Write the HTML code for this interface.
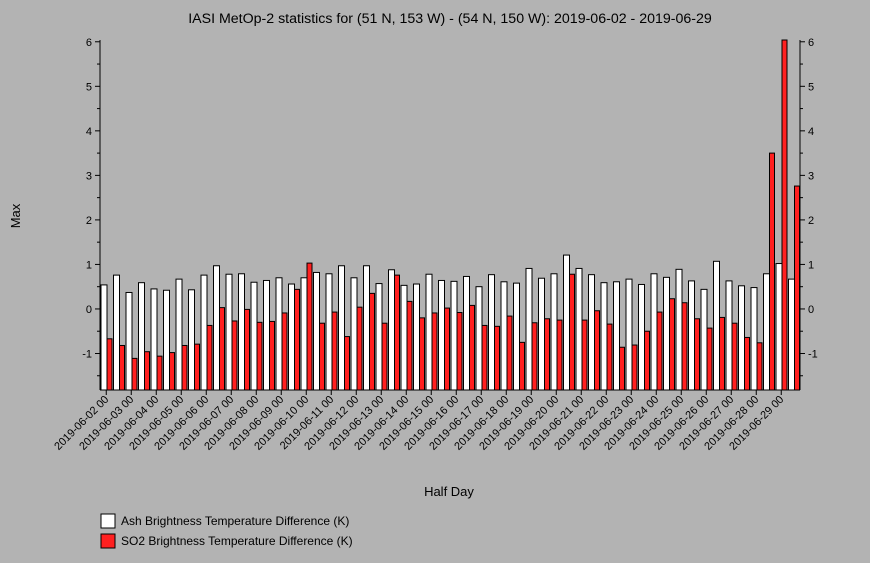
<!DOCTYPE html>
<html><head><meta charset="utf-8"><style>
body{margin:0;background:#b3b3b3;}
svg{display:block;font-family:"Liberation Sans",sans-serif;}
</style></head><body>
<svg id="c" width="870" height="563">
<rect width="870" height="563" fill="#b3b3b3"/>
<text x="450" y="23" font-size="14.2" text-anchor="middle">IASI MetOp-2 statistics for (51 N, 153 W) - (54 N, 150 W): 2019-06-02 - 2019-06-29</text>
<text x="20" y="216" font-size="13" text-anchor="middle" transform="rotate(-90 20 216)">Max</text>
<text x="449" y="496" font-size="13" text-anchor="middle">Half Day</text>
<g id="bars"></g><g id="axes"></g>
<g>
<rect x="101" y="514" width="14" height="14" fill="#fff" stroke="#000"/>
<text x="121" y="525" font-size="12">Ash Brightness Temperature Difference (K)</text>
<rect x="101" y="534" width="14" height="14" fill="#ff2020" stroke="#000"/>
<text x="121" y="545" font-size="12">SO2 Brightness Temperature Difference (K)</text>
</g>
</svg>
<script>
const dates=["02","03","04","05","06","07","08","09","10","11","12","13","14","15","16","17","18","19","20","21","22","23","24","25","26","27","28","29"];
const ash=[0.54,0.76,0.37,0.59,0.45,0.42,0.67,0.43,0.76,0.97,0.78,0.79,0.60,0.64,0.70,0.56,0.70,0.82,0.79,0.97,0.70,0.97,0.57,0.88,0.53,0.56,0.78,0.64,
0.62,0.73,0.50,0.77,0.61,0.58,0.91,0.69,0.79,1.21,0.91,0.77,0.59,0.61,0.67,0.55,0.79,0.71,0.89,0.63,0.44,1.07,0.63,0.52,0.48,0.79,1.02,0.67];
const so2=[-0.67,-0.82,-1.11,-0.96,-1.06,-0.98,-0.82,-0.79,-0.37,0.03,-0.27,-0.01,-0.30,-0.28,-0.09,0.44,1.03,-0.32,-0.07,-0.62,0.04,0.35,-0.32,0.76,0.17,-0.20,-0.09,0.02,
-0.08,0.08,-0.37,-0.39,-0.16,-0.75,-0.31,-0.22,-0.25,0.78,-0.25,-0.04,-0.34,-0.86,-0.81,-0.50,-0.07,0.23,0.14,-0.22,-0.43,-0.19,-0.32,-0.64,-0.76,3.5,6.1,2.76];
const yTicks=[-1,0,1,2,3,4,5,6];
const X0=100,X1=800,Y0=40,Y1=390,YMIN=-1.82,YMAX=6.04;
const n=ash.length,sw=(X1-X0)/n;
const y=v=>Y1-(Math.max(Math.min(v,YMAX),YMIN)-YMIN)/(YMAX-YMIN)*(Y1-Y0);
const xs=i=>X0+i*sw;
const NS="http://www.w3.org/2000/svg";
function mk(t,a,p){const e=document.createElementNS(NS,t);for(const k in a)e.setAttribute(k,a[k]);p.appendChild(e);return e;}
const bars=document.getElementById('bars'),axes=document.getElementById('axes');
mk('rect',{x:X0,y:Y0,width:X1-X0,height:Y1-Y0,fill:'#b3b3b3'},bars);
for(let i=0;i<n;i++){
 const a=mk('rect',{x:xs(i)+1,y:y(ash[i]),width:6,height:Y1-y(ash[i]),fill:'#fff',stroke:'#000','stroke-width':1},bars);
 
 
 const r=mk('rect',{x:xs(i)+7,y:y(so2[i]),width:5,height:Y1-y(so2[i]),fill:'#ff2020',stroke:'#000','stroke-width':1},bars);
 
 
}
mk('line',{x1:X0,y1:Y0,x2:X0,y2:Y1,stroke:'#000'},axes);
mk('line',{x1:X1,y1:Y0,x2:X1,y2:Y1,stroke:'#000'},axes);
mk('line',{x1:X0,y1:Y1,x2:X1,y2:Y1,stroke:'#000'},axes);
for(let v=-1.5;v<=6;v+=0.5){
 const big=Number.isInteger(v),L=big?5:3;
 mk('line',{x1:X0-L,y1:y(v),x2:X0,y2:y(v),stroke:'#000'},axes);
 mk('line',{x1:X1,y1:y(v),x2:X1+L,y2:y(v),stroke:'#000'},axes);
}
yTicks.forEach(v=>{
 const t=mk('text',{x:X0-8,y:y(v)+4,'font-size':11,'text-anchor':'end'},axes);t.textContent=v;
 
 
 const t2=mk('text',{x:X1+8,y:y(v)+4,'font-size':11},axes);t2.textContent=v;
 
 
});
dates.forEach((d,k)=>{
 const cx=xs(2*k)+sw/2;
 mk('line',{x1:cx,y1:Y1,x2:cx,y2:Y1+5,stroke:'#000'},axes);
 const t=mk('text',{x:cx+3,y:Y1+10,'font-size':11,'text-anchor':'end',transform:`rotate(-45 ${cx+3} ${Y1+10})`},axes);
 t.textContent='2019-06-'+d+' 00';
 
 
});
</script>
</body></html>
